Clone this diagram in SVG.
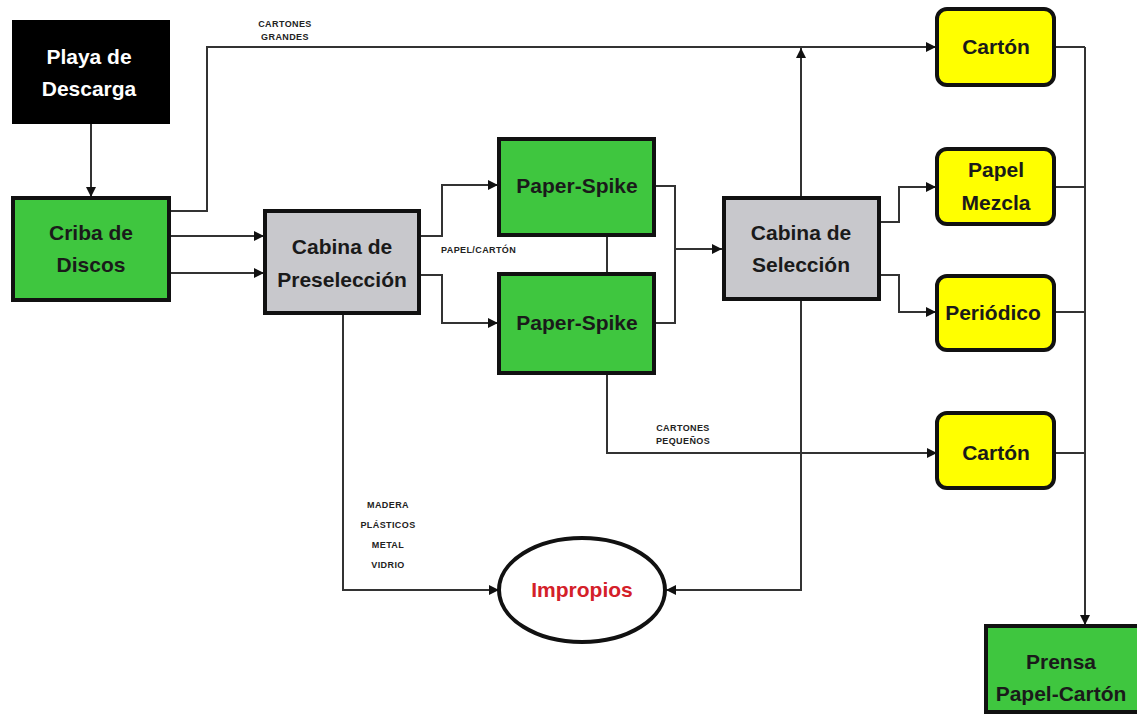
<svg xmlns="http://www.w3.org/2000/svg" width="1137" height="728" viewBox="0 0 1137 728">
<style>
.box{stroke:#111;stroke-width:4}
.green{fill:#3fc63f}
.gray{fill:#c8c8cc}
.yellow{fill:#ffff00}
.t{font-family:"Liberation Sans",Arial,sans-serif;font-weight:bold;font-size:21px;fill:#1a1a1a;text-anchor:middle}
.s{font-family:"Liberation Sans",Arial,sans-serif;font-weight:bold;font-size:9px;letter-spacing:0.4px;fill:#222;text-anchor:middle}
.c{fill:none;stroke:#333;stroke-width:2}
</style>
<defs>
<marker id="a" markerUnits="userSpaceOnUse" markerWidth="10" markerHeight="10" refX="10" refY="5" orient="auto">
<path d="M0,0 L10,5 L0,10 z" fill="#111"/>
</marker>
</defs>
<rect width="1137" height="728" fill="#ffffff"/>
<g id="connectors">
<path class="c" d="M91,124 V197" marker-end="url(#a)"/>
<path class="c" d="M170,211 H207 V47 H936" marker-end="url(#a)"/>
<path class="c" d="M170,236 H264" marker-end="url(#a)"/>
<path class="c" d="M170,273 H264" marker-end="url(#a)"/>
<path class="c" d="M420,236 H442 V185 H498" marker-end="url(#a)"/>
<path class="c" d="M420,275 H442 V323 H498" marker-end="url(#a)"/>
<path class="c" d="M607,235 V273"/>
<path class="c" d="M607,373 V453 H937" marker-end="url(#a)"/>
<path class="c" d="M655,186 H675 V323 H655"/>
<path class="c" d="M675,249 H722" marker-end="url(#a)"/>
<path class="c" d="M801,197 V48" marker-end="url(#a)"/>
<path class="c" d="M801,300 V590 H666" marker-end="url(#a)"/>
<path class="c" d="M343,313 V590 H499" marker-end="url(#a)"/>
<path class="c" d="M880,222 H899 V187 H936" marker-end="url(#a)"/>
<path class="c" d="M880,275 H899 V312 H936" marker-end="url(#a)"/>
<path class="c" d="M1054,47 H1085 M1054,187 H1085 M1054,312 H1085 M1054,453 H1085"/>
<path class="c" d="M1085,47 V625" marker-end="url(#a)"/>
<text class="s" x="285" y="27">CARTONES</text>
<text class="s" x="285" y="40">GRANDES</text>
<text class="s" x="441" y="253" style="text-anchor:start">PAPEL/CARTÓN</text>
<text class="s" x="683" y="431">CARTONES</text>
<text class="s" x="683" y="444">PEQUEÑOS</text>
<text class="s" x="388" y="508">MADERA</text>
<text class="s" x="388" y="528">PLÁSTICOS</text>
<text class="s" x="388" y="548">METAL</text>
<text class="s" x="388" y="568">VIDRIO</text>
</g>
<g id="playa">
<rect x="12" y="20" width="158" height="104" fill="#000"/>
<text class="t" x="89" y="64" style="fill:#fff">Playa de</text>
<text class="t" x="89" y="96" style="fill:#fff">Descarga</text>
</g>
<g id="criba">
<rect class="box green" x="13" y="198" width="156" height="102"/>
<text class="t" x="91" y="240">Criba de</text>
<text class="t" x="91" y="272">Discos</text>
</g>
<g id="preseleccion">
<rect class="box gray" x="265" y="211" width="154" height="102"/>
<text class="t" x="342" y="254">Cabina de</text>
<text class="t" x="342" y="287">Preselección</text>
</g>
<g id="spike1">
<rect class="box green" x="499" y="139" width="155" height="96"/>
<text class="t" x="577" y="193">Paper-Spike</text>
</g>
<g id="spike2">
<rect class="box green" x="499" y="274" width="155" height="99"/>
<text class="t" x="577" y="330">Paper-Spike</text>
</g>
<g id="seleccion">
<rect class="box gray" x="724" y="198" width="155" height="101"/>
<text class="t" x="801" y="240">Cabina de</text>
<text class="t" x="801" y="272">Selección</text>
</g>
<g id="carton1">
<rect class="box yellow" x="937" y="9" width="117" height="76" rx="10"/>
<text class="t" x="996" y="54">Cartón</text>
</g>
<g id="papelmezcla">
<rect class="box yellow" x="937" y="149" width="117" height="75" rx="10"/>
<text class="t" x="996" y="177">Papel</text>
<text class="t" x="996" y="210">Mezcla</text>
</g>
<g id="periodico">
<rect class="box yellow" x="937" y="276" width="117" height="74" rx="10"/>
<text class="t" x="993" y="320">Periódico</text>
</g>
<g id="carton2">
<rect class="box yellow" x="937" y="413" width="117" height="75" rx="10"/>
<text class="t" x="996" y="460">Cartón</text>
</g>
<g id="impropios">
<ellipse cx="582" cy="590" rx="83" ry="52" fill="#fff" stroke="#111" stroke-width="4"/>
<text class="t" x="582" y="597" style="fill:#d42029">Impropios</text>
</g>
<g id="prensa">
<rect class="box green" x="986" y="626" width="153" height="86"/>
<text class="t" x="1061" y="669">Prensa</text>
<text class="t" x="1061" y="701">Papel-Cartón</text>
</g>
</svg>
